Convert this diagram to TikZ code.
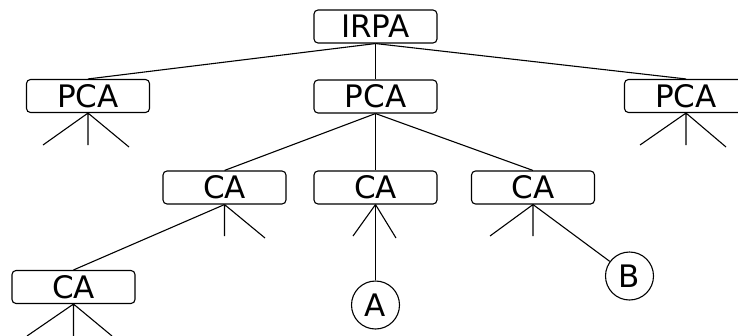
\documentclass[tikz,border=0pt]{standalone}
\usepackage{fontspec}
\setmainfont{DejaVu Sans}
\begin{document}
\begin{tikzpicture}[x=1pt,y=-1pt,line width=1.1pt,
  box/.style={draw,rounded corners=4pt,minimum width=123pt,minimum height=33pt,
    inner sep=0pt,font=\fontsize{31}{34}\selectfont},
  leaf/.style={draw,circle,minimum size=48pt,inner sep=0pt,
    font=\fontsize{31}{34}\selectfont}]
\useasboundingbox (0,0) rectangle (738,335);
\clip (0,0) rectangle (738,335);

% top of the tree
\node[box] (irpa) at (375.5,26.5) {IRPA};
\node[box] (pcaL) at (88,96) {PCA};
\node[box] (pcaM) at (375.5,96.5) {PCA};
\node[box] (pcaR) at (686,96) {PCA};

% middle level
\node[box] (caL) at (224.5,187.5) {CA};
\node[box] (caM) at (375.5,187.5) {CA};
\node[box] (caR) at (533,187.5) {CA};

% bottom level
\node[box] (caB) at (73.5,287) {CA};
\node[leaf] (a) at (375.5,305) {A};
\node[leaf] (b) at (629.5,276) {B};

% free ends of the stub branches
\coordinate (pcaL1) at (43,145);
\coordinate (pcaL2) at (88,145);
\coordinate (pcaL3) at (129,147);
\coordinate (pcaR1) at (640,145);
\coordinate (pcaR2) at (686,145);
\coordinate (pcaR3) at (726,147);
\coordinate (caL2) at (224.5,236);
\coordinate (caL3) at (265,238);
\coordinate (caM1) at (353,236);
\coordinate (caM3) at (396,238);
\coordinate (caR1) at (490,236);
\coordinate (caR2) at (533,236);
\coordinate (caB1) at (27,336);
\coordinate (caB2) at (73.5,340);
\coordinate (caB3) at (112,336);

% edges
\draw (irpa.south) -- (pcaL.north);
\draw (irpa.south) -- (pcaM.north);
\draw (irpa.south) -- (pcaR.north);
\draw (pcaM.south) -- (caL.north);
\draw (pcaM.south) -- (caM.north);
\draw (pcaM.south) -- (caR.north);
\draw (caL.south) -- (caB.north);
\draw (caM.south) -- (a.north);
\draw (caR.south) -- (b);

% stubs
\draw (pcaL.south) -- (pcaL1) (pcaL.south) -- (pcaL2) (pcaL.south) -- (pcaL3);
\draw (pcaR.south) -- (pcaR1) (pcaR.south) -- (pcaR2) (pcaR.south) -- (pcaR3);
\draw (caL.south) -- (caL2) (caL.south) -- (caL3);
\draw (caM.south) -- (caM1) (caM.south) -- (caM3);
\draw (caR.south) -- (caR1) (caR.south) -- (caR2);
\draw (caB.south) -- (caB1) (caB.south) -- (caB2) (caB.south) -- (caB3);
\end{tikzpicture}
\end{document}
